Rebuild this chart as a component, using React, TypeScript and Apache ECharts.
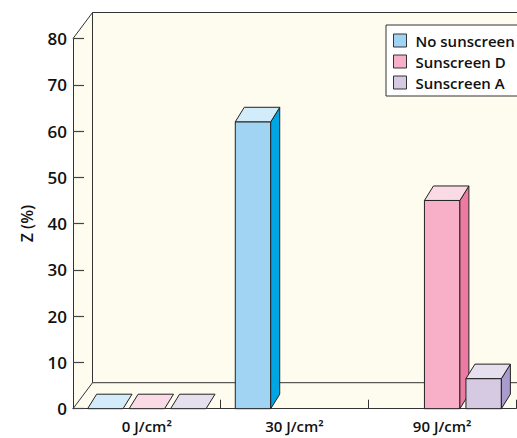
import React, { useEffect, useRef } from "react";
import * as echarts from "echarts";

const categories = ["0 J/cm²", "30 J/cm²", "90 J/cm²"];
const seriesNames = ["No sunscreen", "Sunscreen D", "Sunscreen A"];
const noSunscreen: (number | null)[] = [0, 62, null];
const sunscreenD: (number | null)[] = [0, null, 45];
const sunscreenA: (number | null)[] = [0, null, 6.5];
const yTicks = { min: 0, max: 80, interval: 10 };

const palettes = [
  { front: "#A0D4F2", side: "#00A6E3", top: "#D3ECFA" },
  { front: "#F7B0C8", side: "#EC7AA2", top: "#FADAE4" },
  { front: "#D5CAE2", side: "#A99BCB", top: "#E5DFEE" },
];

const FONT = "'Open Sans', 'DejaVu Sans', sans-serif";
const STROKE = "#222";
const CHART_W = 560;
const CHART_H = 438;

export default function App() {
  const ref = useRef<HTMLDivElement>(null);
  useEffect(() => {
    if (!ref.current) return;
    const chart = echarts.init(ref.current, undefined, { renderer: "svg" });
    const allValues = [noSunscreen, sunscreenD, sunscreenA];

    const barSeries = allValues.map((vals, si) => ({
      type: "custom",
      name: seriesNames[si],
      z: 3,
      itemStyle: { color: palettes[si].front, borderColor: "#333", borderWidth: 1 },
      data: vals
        .map((v, i) => (v === null ? null : [i, v]))
        .filter((d) => d !== null),
      renderItem: (params: any, api: any) => {
        const ci = api.value(0);
        const v = api.value(1);
        const catW = api.size([1, 0])[0];
        const bw = catW * 0.24;
        const gap = catW * 0.041;
        const base = api.coord([ci, 0]);
        const topPt = api.coord([ci, v]);
        const x0 = base[0] - (3 * bw + 2 * gap) / 2 + si * (bw + gap);
        const yB = base[1];
        const yT = topPt[1];
        const dx = 9;
        const dy = 14.5;
        const p = palettes[si];
        const children: any[] = [];
        if (yB - yT > 0.5) {
          children.push({
            type: "rect",
            shape: { x: x0, y: yT, width: bw, height: yB - yT },
            style: { fill: p.front, stroke: STROKE, lineWidth: 1 },
          });
          children.push({
            type: "polygon",
            shape: {
              points: [
                [x0 + bw, yT],
                [x0 + bw + dx, yT - dy],
                [x0 + bw + dx, yB - dy],
                [x0 + bw, yB],
              ],
            },
            style: { fill: p.side, stroke: STROKE, lineWidth: 1 },
          });
        }
        children.push({
          type: "polygon",
          shape: {
            points: [
              [x0, yT],
              [x0 + dx, yT - dy],
              [x0 + bw + dx, yT - dy],
              [x0 + bw, yT],
            ],
          },
          style: { fill: p.top, stroke: STROKE, lineWidth: 1 },
        });
        return { type: "group", children };
      },
    }));

    const wallSeries = {
      type: "custom",
      name: "walls",
      z: -1,
      silent: true,
      data: [[0, 0]],
      renderItem: (params: any) => {
        const cs = params.coordSys;
        const x = cs.x;
        const y = cs.y;
        const w = cs.width;
        const h = cs.height;
        const dx = 19.5;
        const dy = 26;
        const right = CHART_W;
        const ls = { stroke: "#333", lineWidth: 1 };
        return {
          type: "group",
          children: [
            {
              type: "polygon",
              shape: {
                points: [
                  [x, y],
                  [x + dx, y - dy],
                  [right, y - dy],
                  [right, y + h],
                  [x, y + h],
                ],
              },
              style: { fill: "#FEFCEF" },
            },
            { type: "line", shape: { x1: x, y1: y, x2: x + dx, y2: y - dy }, style: ls },
            { type: "line", shape: { x1: x + dx, y1: y - dy, x2: right, y2: y - dy }, style: ls },
            { type: "line", shape: { x1: x + dx, y1: y - dy, x2: x + dx, y2: y + h - dy }, style: ls },
            { type: "line", shape: { x1: x, y1: y + h, x2: x + dx, y2: y + h - dy }, style: ls },
            { type: "line", shape: { x1: x + dx, y1: y + h - dy, x2: right, y2: y + h - dy }, style: ls },
          ],
        };
      },
    };

    chart.setOption({
      animation: false,
      backgroundColor: "#fff",
      textStyle: { fontFamily: FONT },
      grid: { left: 73, right: CHART_W - 516, top: 38.5, bottom: 29.3 },
      legend: {
        data: seriesNames,
        orient: "vertical",
        left: 386,
        top: 25,
        backgroundColor: "#fff",
        borderColor: "#333",
        borderWidth: 1,
        padding: [8, 10, 6, 7],
        itemWidth: 13,
        itemHeight: 13,
        itemGap: 6,
        icon: "rect",
        itemStyle: { borderColor: "#333", borderWidth: 1 },
        textStyle: { fontFamily: FONT, fontSize: 15, fontWeight: 600, color: "#111", padding: [0, 0, 0, 4] },
      },
      xAxis: {
        type: "category",
        data: categories,
        axisLine: { show: true, lineStyle: { color: "#333", width: 1 } },
        axisTick: { show: true, inside: true, length: 9, lineStyle: { color: "#333" } },
        axisLabel: { fontFamily: FONT, fontSize: 15, fontWeight: 600, color: "#111", margin: 10 },
        splitLine: { show: false },
      },
      yAxis: {
        type: "value",
        min: yTicks.min,
        max: yTicks.max,
        interval: yTicks.interval,
        name: "Z (%)",
        nameLocation: "middle",
        nameGap: 38,
        nameRotate: 90,
        nameTextStyle: { fontFamily: FONT, fontSize: 16, fontWeight: 600, color: "#111" },
        axisLine: { show: true, lineStyle: { color: "#333", width: 1 } },
        axisTick: { show: true, inside: true, length: 11, lineStyle: { color: "#444", width: 1.2 } },
        axisLabel: { fontFamily: FONT, fontSize: 17, fontWeight: 600, color: "#111", margin: 6 },
        splitLine: { show: false },
      },
      series: [wallSeries, ...barSeries],
    });
    return () => chart.dispose();
  }, []);
  return (
    <div
      ref={ref}
      style={{ position: "fixed", left: 0, top: 0, width: CHART_W, height: CHART_H }}
    />
  );
}
